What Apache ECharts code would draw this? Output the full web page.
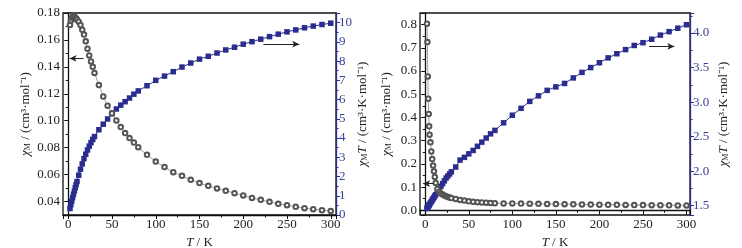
<!DOCTYPE html>
<html lang="en">
<head>
    <meta charset="UTF-8" />
    <title>chiM and chiMT vs T</title>
    <script src="https://cdn.jsdelivr.net/npm/echarts@6/dist/echarts.min.js"></script>
    <style>html, body { margin: 0; padding: 0; background: #fff; }</style>
</head>
<body>
    <div id="main" style="width: 742px; height: 248px"></div>
    <script>
        // left panel: temperatures and readings
        var tempA = [2, 3, 4, 5, 6, 7, 8, 9, 10, 12, 14, 16, 18, 20, 22, 24, 26, 28, 30,
            35, 40, 45, 50, 55, 60, 65, 70, 75, 80,
            90, 100, 110, 120, 130, 140, 150, 160, 170, 180, 190, 200,
            210, 220, 230, 240, 250, 260, 270, 280, 290, 300];
        var chiA = [0.171, 0.1745, 0.1765, 0.1772, 0.1774, 0.1772, 0.1767, 0.176, 0.175, 0.1735,
            0.171, 0.1675, 0.164, 0.159, 0.1535, 0.1485, 0.144, 0.140, 0.1355,
            0.1265, 0.118, 0.1112, 0.1055, 0.1002, 0.0953, 0.0908, 0.0871, 0.0838, 0.0804,
            0.0747, 0.0697, 0.0656, 0.0618, 0.0591, 0.0561, 0.0537, 0.0517, 0.0497, 0.048, 0.0462, 0.0445,
            0.0427, 0.0413, 0.0398, 0.0383, 0.0373, 0.0361, 0.0351, 0.0343, 0.0336, 0.0329];
        var chiTA = [0.34, 0.54, 0.72, 0.90, 1.08, 1.25, 1.42, 1.58, 1.74, 2.07,
            2.38, 2.66, 2.93, 3.16, 3.38, 3.58, 3.76, 3.93, 4.08,
            4.43, 4.72, 4.99, 5.27, 5.51, 5.71, 5.89, 6.08, 6.28, 6.45,
            6.72, 7.00, 7.22, 7.45, 7.69, 7.90, 8.10, 8.25, 8.42, 8.58, 8.72, 8.88,
            9.01, 9.14, 9.27, 9.40, 9.52, 9.62, 9.73, 9.82, 9.90, 9.97];

        // right panel
        var tempB = [2, 2.5, 3, 3.5, 4, 4.5, 5, 6, 7, 8, 9, 10, 11, 12, 14, 16, 18, 20, 22, 24, 26, 28, 30,
            35, 40, 45, 50, 55, 60, 65, 70, 75, 80,
            90, 100, 110, 120, 130, 140, 150, 160, 170, 180, 190, 200,
            210, 220, 230, 240, 250, 260, 270, 280, 290, 300];
        var chiB = [0.804, 0.725, 0.577, 0.481, 0.415, 0.362, 0.326, 0.293, 0.254, 0.221, 0.193, 0.168, 0.144, 0.118,
            0.092, 0.080, 0.073, 0.068, 0.064, 0.061, 0.058, 0.055, 0.053,
            0.049, 0.045, 0.042, 0.039, 0.037, 0.035, 0.034, 0.033, 0.032, 0.031,
            0.030, 0.030, 0.029, 0.0285, 0.028, 0.0275, 0.027, 0.0265, 0.026, 0.0255, 0.025, 0.0245,
            0.024, 0.0237, 0.0233, 0.023, 0.0227, 0.0223, 0.022, 0.0217, 0.0214, 0.021];
        var chiTB = [1.46, 1.47, 1.48, 1.49, 1.50, 1.51, 1.52, 1.54, 1.56, 1.58, 1.60, 1.62, 1.64, 1.66,
            1.70, 1.74, 1.78, 1.82, 1.86, 1.90, 1.93, 1.96, 1.99,
            2.06, 2.16, 2.20, 2.25, 2.30, 2.36, 2.42, 2.48, 2.54, 2.59,
            2.70, 2.81, 2.91, 3.01, 3.09, 3.17, 3.22, 3.27, 3.35, 3.43, 3.50, 3.57,
            3.64, 3.70, 3.76, 3.82, 3.86, 3.91, 3.97, 4.02, 4.07, 4.12];

        // arrows (data units: [T, value])
        var arrowLeftA = [[17.5, 0.1463], [1.5, 0.1463]];
        var arrowRightA = [[223, 8.88], [264, 8.88]];
        var arrowLeftB = [[9.5, 0.115], [-2.5, 0.115]];
        var arrowRightB = [[257, 3.806], [286, 3.806]];

        var serif = "Liberation Serif";
        var blue = "#2b2d8e";
        var blueText = "#3d4196";

        var richName = {
            i: { fontFamily: serif, fontSize: 13, fontStyle: "italic", color: "#222" },
            s: { fontFamily: serif, fontSize: 8, verticalAlign: "bottom", color: "#222" }
        };

        function pairs(xs, ys) {
            return xs.map(function (x, k) { return [x, ys[k]]; });
        }

        function arrow(a) {
            return {
                silent: true,
                animation: false,
                symbol: ["none", "arrow"],
                symbolSize: [5, 7],
                label: { show: false },
                lineStyle: { color: "#222", width: 1, type: "solid" },
                data: [[{ coord: a[0] }, { coord: a[1] }]]
            };
        }

        function xAxis(grid, max) {
            return {
                type: "value", gridIndex: grid, min: -6, max: max,
                name: "{i|T} / K", nameLocation: "middle", nameGap: 14,
                nameTextStyle: { fontFamily: serif, fontSize: 13, color: "#222", rich: richName },
                axisLine: { lineStyle: { color: "#111", width: 1.3 } },
                axisTick: { inside: false, length: 4, lineStyle: { color: "#111" } },
                minorTick: { show: true, splitNumber: 2, length: 2.5, lineStyle: { color: "#111" } },
                axisLabel: { fontFamily: serif, fontSize: 13, color: "#222", margin: 3, showMinLabel: false, showMaxLabel: false },
                splitLine: { show: false }
            };
        }

        function yAxis(grid, pos, opt) {
            var right = pos === "right";
            var c = right ? blue : "#111";
            return Object.assign({
                type: "value", gridIndex: grid, position: pos,
                nameLocation: "middle", nameRotate: 90,
                nameTextStyle: { fontFamily: serif, fontSize: 13, color: "#222", rich: richName },
                axisLine: { show: true, lineStyle: { color: c, width: 1.3 } },
                axisTick: { inside: false, length: 4, lineStyle: { color: c } },
                minorTick: { show: true, splitNumber: 2, length: 2.5, lineStyle: { color: c } },
                splitLine: { show: false }
            }, opt);
        }

        function labels(digits, right, showMin, showMax) {
            return {
                fontFamily: serif, fontSize: 13, margin: 3,
                color: right ? blueText : "#222",
                showMinLabel: showMin, showMaxLabel: showMax,
                formatter: function (v) { return v.toFixed(digits); }
            };
        }

        var mChart = echarts.init(document.getElementById("main"), null, { renderer: "canvas" });

        var option = {
            animation: false,
            backgroundColor: "#fff",
            grid: [
                { left: 63, width: 273, top: 13, bottom: 33, outerBoundsMode: "none", containLabel: false,
                  show: true, borderColor: "#111", borderWidth: 1.3 },
                { left: 420, width: 270, top: 13, bottom: 33, outerBoundsMode: "none", containLabel: false,
                  show: true, borderColor: "#111", borderWidth: 1.3 }
            ],
            xAxis: [xAxis(0, 306), xAxis(1, 304)],
            yAxis: [
                yAxis(0, "left", {
                    min: 0.03, max: 0.18, minInterval: 0.02, maxInterval: 0.02,
                    name: "{i|χ}{s|M} / (cm³·mol⁻¹)", nameGap: 31,
                    axisLabel: labels(2, false, false, true)
                }),
                yAxis(0, "right", {
                    min: 0, max: 10.5, interval: 1,
                    name: "{i|χ}{s|M}{i|T} / (cm³·K·mol⁻¹)", nameGap: 20,
                    axisLabel: labels(0, true, true, false)
                }),
                yAxis(1, "left", {
                    min: -0.02, max: 0.85, minInterval: 0.1, maxInterval: 0.1,
                    name: "{i|χ}{s|M} / (cm³·mol⁻¹)", nameGap: 27,
                    axisLabel: labels(1, false, false, false)
                }),
                yAxis(1, "right", {
                    min: 1.365, max: 4.29, minInterval: 0.5, maxInterval: 0.5,
                    name: "{i|χ}{s|M}{i|T} / (cm³·K·mol⁻¹)", nameGap: 27,
                    axisLabel: labels(1, true, false, false)
                })
            ],
            series: [
                {
                    type: "line", xAxisIndex: 0, yAxisIndex: 1, data: pairs(tempA, chiTA),
                    symbol: "rect", symbolSize: 5.5, itemStyle: { color: blue },
                    lineStyle: { color: blue, width: 1 }, markLine: arrow(arrowRightA)
                },
                {
                    type: "line", xAxisIndex: 0, yAxisIndex: 0, data: pairs(tempA, chiA),
                    symbol: "emptyCircle", symbolSize: 4.5,
                    itemStyle: { color: "#555", borderWidth: 0.7 },
                    lineStyle: { color: "#777", width: 0.7 }, markLine: arrow(arrowLeftA)
                },
                {
                    type: "line", xAxisIndex: 1, yAxisIndex: 3, data: pairs(tempB, chiTB),
                    symbol: "rect", symbolSize: 5.5, itemStyle: { color: blue },
                    lineStyle: { color: blue, width: 1 }, markLine: arrow(arrowRightB)
                },
                {
                    type: "line", xAxisIndex: 1, yAxisIndex: 2, data: pairs(tempB, chiB),
                    symbol: "emptyCircle", symbolSize: 4.5,
                    itemStyle: { color: "#555", borderWidth: 0.7 },
                    lineStyle: { color: "#777", width: 0.7 }, markLine: arrow(arrowLeftB)
                }
            ]
        };

        mChart.setOption(option);
    </script>
</body>
</html>
